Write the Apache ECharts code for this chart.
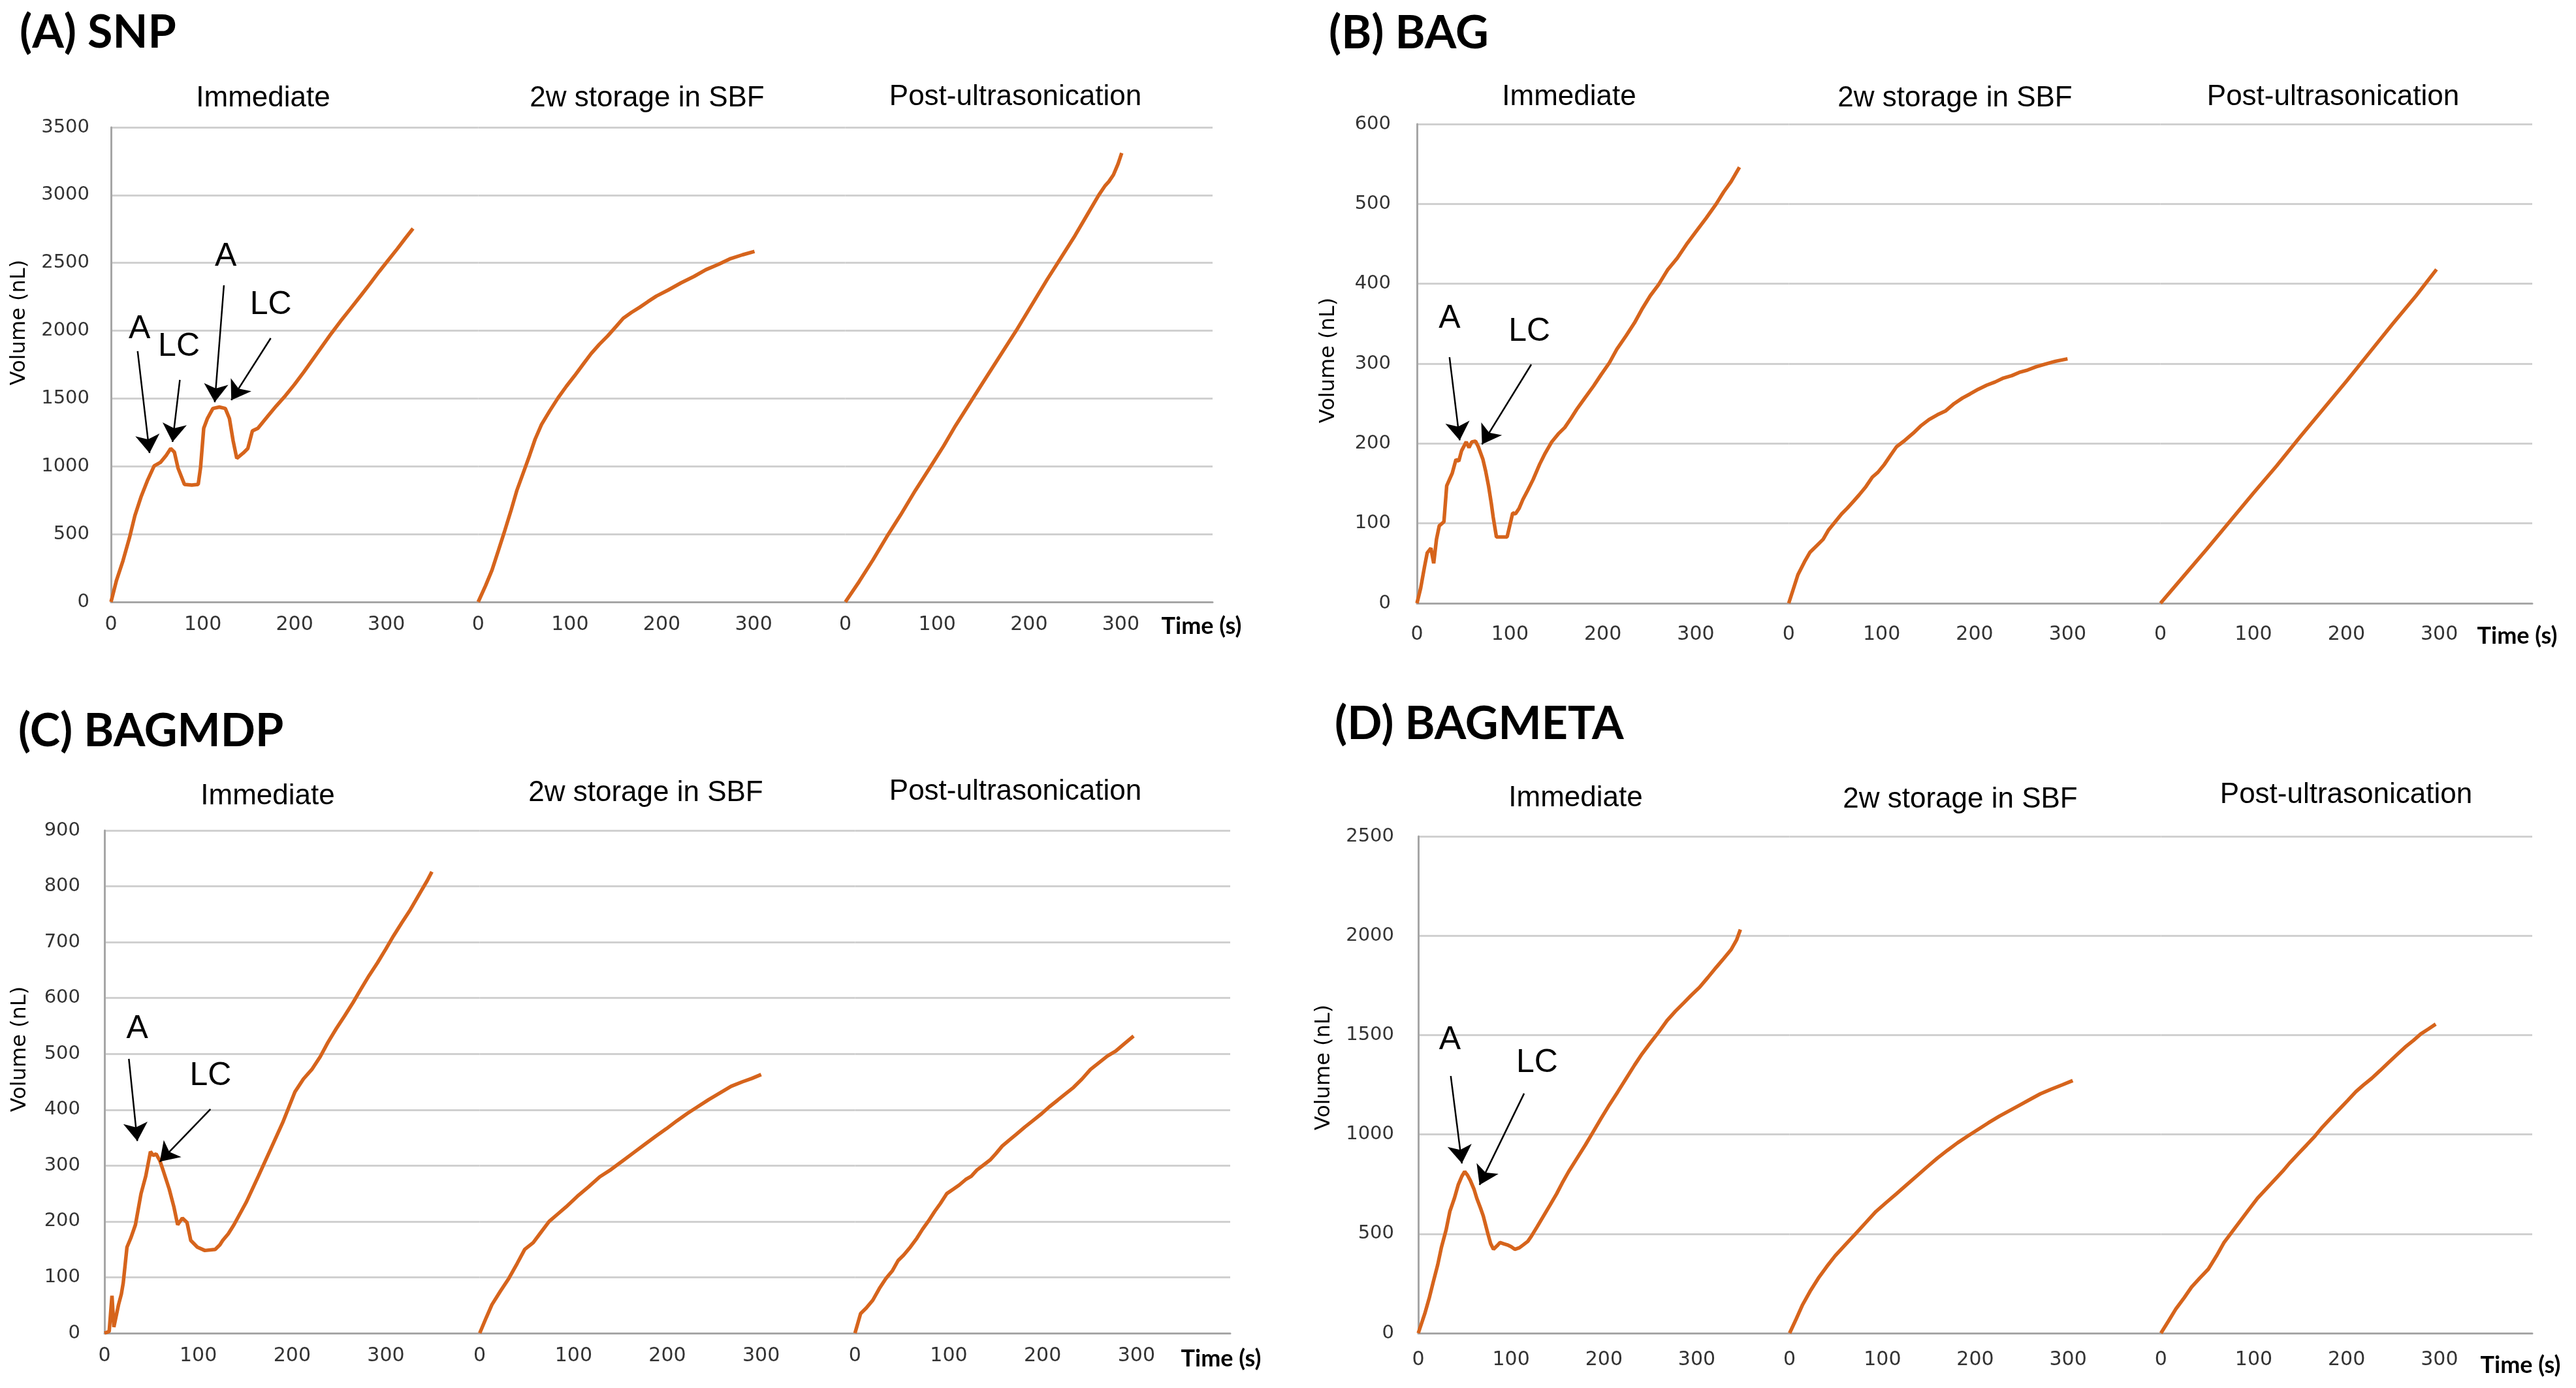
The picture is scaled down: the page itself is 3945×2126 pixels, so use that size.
<!DOCTYPE html>
<html><head><meta charset="utf-8">
<script src="https://cdn.jsdelivr.net/npm/echarts@6/dist/echarts.min.js"></script>
<style>html,body{margin:0;padding:0;background:#fff}#c{width:3945px;height:2126px}</style>
</head><body><div id="c"></div>
<script>
// ---------- data (time in s, volume in nL) ----------
const segmentNames = ['Immediate', '2w storage in SBF', 'Post-ultrasonication'];
const xTickValues = [0, 100, 200, 300];
const panelTitles = ['(A) SNP', '(B) BAG', '(C) BAGMDP', '(D) BAGMETA'];
const yMaxes = [3500, 600, 900, 2500];
const ySteps = [500, 100, 100, 500];

const snpImm = [[0,0],[6,160],[13,303],[20,470],[26,636],[33,780],[40,900],[47,1003],[54,1030],[60,1080],[65,1131],[69,1105],[73,987],[80,867],[88,862],[95,867],[97.5,987],[101,1281],[105,1353],[111,1427],[118,1437],[124.5,1427],[129,1353],[133,1189],[137,1059],[144,1098],[149,1131],[154,1261],[160,1281],[171,1372],[180,1445],[190,1521],[200,1605],[210,1695],[220,1790],[231,1895],[240,1980],[250,2070],[260,2155],[272,2258],[282,2345],[292,2435],[302,2520],[312,2605],[321,2685],[329,2754]];
const snp2w = [[0,0],[8,120],[15,234],[22,380],[29,527],[36,680],[42,820],[49,950],[56,1081],[62,1200],[69,1309],[78,1410],[87,1505],[96,1590],[105,1668],[114,1750],[123,1831],[132,1900],[141,1961],[150,2030],[158,2092],[167,2135],[176,2173],[185,2215],[194,2255],[207,2300],[221,2353],[235,2400],[248,2450],[262,2490],[275,2532],[288,2560],[301,2585]];
const snpPost = [[0,0],[15,150],[30,310],[45,480],[60,640],[76,820],[93,1000],[107,1150],[120,1300],[135,1460],[150,1620],[168,1810],[186,2000],[203,2190],[220,2380],[235,2540],[250,2700],[263,2850],[276,3000],[283,3070],[287,3100],[292,3150],[297,3230],[301,3310]];

const bagImm = [[0,0],[4,19],[8,45],[11,63],[15,69],[18,50],[21,80],[24,97],[29,102],[32,147],[35,155],[38,163],[42,180],[45,178],[48,191],[53,202],[56,195],[59,202],[63,203],[66,196],[71,180],[74,165],[77,147],[80,125],[82,108],[85.5,83],[91,83],[97,83],[100,98],[103,113],[106,112],[110,119],[114,130],[119,141],[125,155],[132,174],[138,188],[145,202],[152,212],[159,220],[166,232],[172,243],[180,256],[190,272],[198,286],[207,301],[215,318],[225,335],[234,351],[242,368],[251,385],[260,399],[270,418],[280,432],[291,451],[300,465],[311,482],[322,500],[330,515],[338,528],[343,538],[347,546]];
const bag2w = [[0,0],[5,18],[10,36],[17,52],[23,64],[30,72],[37,80],[43,92],[50,102],[57,112],[63,119],[70,128],[76,136],[83,146],[90,158],[96,164],[103,174],[110,186],[116,196],[125,204],[134,213],[142,222],[151,230],[160,236],[169,241],[178,250],[187,257],[195,262],[204,268],[213,273],[222,277],[231,282],[240,285],[248,289],[257,292],[266,296],[275,299],[287,303],[300,306]];
const bagPost = [[0,0],[25,34],[50,68],[75,103],[100,138],[125,172],[150,208],[175,243],[200,278],[225,314],[250,350],[275,385],[297,418]];

const mdpImm = [[0,0],[5,3],[8,67],[10,11],[15,51],[18,70],[20,90],[24,154],[28,170],[33,194],[39,250],[44,281],[49,325],[52,318],[55,321],[59,309],[63,289],[69,258],[74,226],[78,194],[83,206],[88,198],[92,166],[99,154],[107,148],[118,150],[123,158],[126,166],[132,178],[138,194],[151,234],[164,281],[177,329],[190,377],[203,432],[212,455],[221,472],[230,495],[238,520],[247,545],[256,568],[265,592],[273,615],[282,640],[291,663],[300,688],[308,711],[317,735],[326,758],[337,790],[344,810],[349,826]];
const mdp2w = [[0,0],[7,28],[13,51],[22,75],[31,98],[40,125],[48,150],[57,162],[65,180],[74,200],[83,213],[92,226],[104,245],[116,262],[128,280],[140,293],[152,308],[164,323],[176,338],[188,353],[199,366],[210,380],[221,393],[232,405],[244,418],[256,430],[268,442],[280,450],[290,456],[300,463]];
const mdpPost = [[0,0],[6,35],[12,45],[19,59],[26,80],[33,98],[40,112],[46,130],[52,140],[59,154],[66,170],[72,186],[78,200],[85,218],[91,232],[98,250],[105,258],[111,265],[118,275],[124,281],[130,292],[137,301],[144,310],[150,321],[157,335],[164,345],[172,356],[181,369],[190,381],[199,393],[207,405],[216,417],[224,428],[233,440],[242,455],[251,472],[260,484],[269,496],[278,505],[287,518],[297,532]];

const metaImm = [[0,0],[7,98],[12,180],[16,255],[21,345],[25,433],[30,520],[34,612],[39,680],[43,746],[47,790],[50,813],[53,795],[56,769],[60,725],[63,679],[67,630],[70,590],[75,500],[78,450],[81,422],[85,440],[88,456],[92,450],[96,444],[100,435],[104,422],[109,430],[113,444],[118,462],[122,489],[128,535],[135,590],[142,645],[149,701],[155,755],[162,813],[171,880],[180,947],[188,1010],[197,1081],[206,1150],[215,1215],[224,1282],[233,1349],[241,1405],[250,1461],[259,1515],[268,1573],[277,1620],[286,1662],[294,1700],[303,1740],[312,1790],[321,1841],[329,1885],[337,1930],[343,1980],[347,2031]];
const meta2w = [[0,0],[7,70],[14,143],[22,210],[31,277],[40,335],[49,389],[60,445],[71,500],[82,556],[93,612],[104,657],[115,701],[126,746],[137,791],[148,836],[159,880],[170,920],[181,958],[192,992],[203,1025],[214,1058],[226,1092],[237,1120],[248,1148],[259,1176],[270,1204],[282,1228],[294,1250],[305,1271]];
const metaPost = [[0,0],[8,60],[16,121],[25,178],[33,232],[42,278],[51,322],[60,390],[68,456],[77,512],[86,568],[95,624],[104,679],[113,724],[122,769],[131,814],[139,858],[148,903],[157,947],[166,992],[174,1037],[183,1082],[192,1126],[201,1170],[210,1215],[218,1248],[227,1282],[236,1321],[245,1361],[254,1400],[263,1439],[272,1473],[280,1506],[288,1530],[296,1555]];

// annotations in data coords of the "Immediate" segment: [t0, v0, t1, v1] arrows, [text, t, v] labels
const arrowsA = [[29,1849,42,1098],[75,1637,67,1180],[123,2335,113,1473],[174,1945,131,1488]];
const labelsA = [['A',31,2012],['LC',74,1882],['A',125,2547],['LC',174,2190]];
const arrowsB = [[35,308,46,204],[123,299,70,199]];
const labelsB = [['A',35,356],['LC',121,340]];
const arrowsC = [[26,491,35,344],[113,401,59,307]];
const labelsC = [['A',35,544],['LC',113,460]];
const arrowsD = [[35,1294,47,854],[114,1206,66,746]];
const labelsD = [['A',34,1475],['LC',128,1360]];

const panelSeries = [[snpImm, snp2w, snpPost],[bagImm, bag2w, bagPost],[mdpImm, mdp2w, mdpPost],[metaImm, meta2w, metaPost]];
const panelArrows = [arrowsA, arrowsB, arrowsC, arrowsD];
const panelLabels = [labelsA, labelsB, labelsC, labelsD];

// ---------- layout (pixels) ----------
const layout = [
  {left:170, top:195, right:1857, bottom:922, title:[30,50], sub:[[403,151],[991,151],[1555,149]], yName:[30,494], time:[1840,959], xMargin:20, yMargin:33},
  {left:2170, top:190, right:3878, bottom:924, title:[2035,51], sub:[[2403,149],[2994,151],[3573,149]], yName:[2035,552], time:[3855,974], xMargin:33, yMargin:40},
  {left:160, top:1272, right:1884, bottom:2042, title:[28,1120], sub:[[410,1220],[989,1215],[1555,1213]], yName:[31,1607], time:[1870,2081], xMargin:20, yMargin:37},
  {left:2172, top:1281, right:3878, bottom:2042, title:[2044,1109], sub:[[2413,1223],[3002,1225],[3593,1218]], yName:[2028,1635], time:[3860,2091], xMargin:26, yMargin:37}
];
const SEG_MAX = 400;
const LINE_COLOR = '#d6641c';
const GRID_COLOR = '#d0d0d0';
const AXIS_COLOR = '#a6a6a6';
const TICK_FONT = 'DejaVu Sans';

const grids = [], xAxes = [], yAxes = [], series = [], graphics = [];

function txt(x, y, text, font, align, extra) {
  return Object.assign({type:'text', x:x, y:y, silent:true, style:{text:text, font:font, fill:'#000', align:align, textAlign:align, verticalAlign:'middle', textVerticalAlign:'middle'}}, extra || {});
}

layout.forEach((L, p) => {
  const segW = (L.right - L.left) / 3;
  for (let s = 0; s < 3; s++) {
    const gi = grids.length;
    grids.push({left: L.left + s * segW, top: L.top, width: segW, height: L.bottom - L.top, containLabel:false});
    xAxes.push({
      type:'value', gridIndex:gi, min:0, max:SEG_MAX, interval:100,
      axisLine:{show:true, lineStyle:{color:AXIS_COLOR, width:3}},
      axisTick:{show:false}, splitLine:{show:false},
      axisLabel:{show:true, margin:L.xMargin, fontSize:30, fontFamily:TICK_FONT, color:'#333',
        formatter: v => (xTickValues.indexOf(v) >= 0 ? String(v) : '')}
    });
    yAxes.push({
      type:'value', gridIndex:gi, min:0, max:yMaxes[p], interval:ySteps[p],
      axisLine:{show:s === 0, lineStyle:{color:AXIS_COLOR, width:3}},
      axisTick:{show:false},
      splitLine:{show:true, lineStyle:{color:GRID_COLOR, width:3}},
      axisLabel:{show:s === 0, margin:L.yMargin, fontSize:29, fontFamily:TICK_FONT, color:'#333',
        formatter: v => String(v)}
    });
    const ser = {
      type:'line', xAxisIndex:gi, yAxisIndex:gi, data:panelSeries[p][s],
      showSymbol:false, symbol:'none', smooth:false, silent:true,
      lineStyle:{color:LINE_COLOR, width:5.5}, z:3
    };
    if (s === 0) {
      ser.markLine = {
        silent:true, symbol:['none','arrow'], symbolSize:28, animation:false,
        lineStyle:{color:'#000', width:2.5, type:'solid'}, label:{show:false},
        emphasis:{disabled:true},
        data: panelArrows[p].map(a => [{coord:[a[0], a[1]]}, {coord:[a[2], a[3]]}])
      };
      ser.markPoint = {
        silent:true, symbol:'circle', symbolSize:1, animation:false,
        itemStyle:{color:'rgba(0,0,0,0)'},
        label:{show:true, position:'inside', formatter:'{b}', color:'#000', fontSize:50, fontFamily:'Liberation Sans'},
        data: panelLabels[p].map(l => ({name:l[0], coord:[l[1], l[2]]}))
      };
    }
    series.push(ser);
    graphics.push(txt(L.sub[s][0], L.sub[s][1], segmentNames[s], '44px "Liberation Sans"', 'center'));
  }
  graphics.push(txt(L.title[0], L.title[1], panelTitles[p], 'bold 70px Lato', 'left'));
  graphics.push(txt(L.yName[0], L.yName[1], 'Volume (nL)', '32px "DejaVu Sans"', 'center', {rotation:Math.PI / 2}));
  graphics.push(txt(L.time[0], L.time[1], 'Time (s)', 'bold 36px Lato', 'center'));
});

const chart = echarts.init(document.getElementById('c'));
chart.setOption({
  backgroundColor:'#fff',
  animation:false,
  grid:grids, xAxis:xAxes, yAxis:yAxes, series:series,
  graphic:{elements:graphics}
});
</script></body></html>
